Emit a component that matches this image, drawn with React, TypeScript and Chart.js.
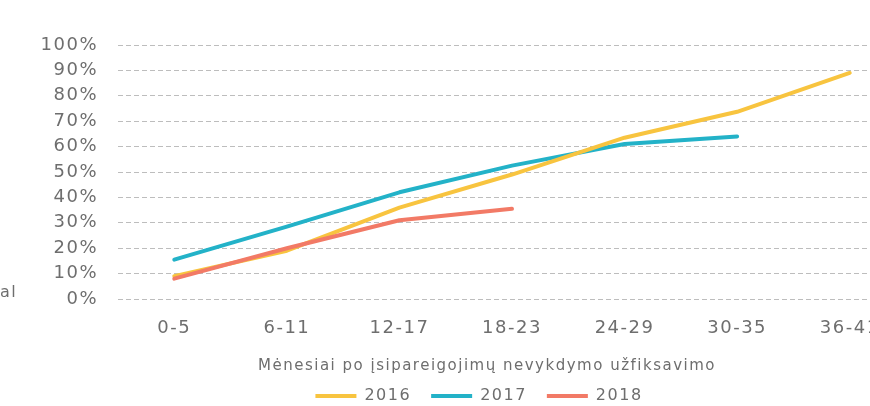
import React, { useEffect, useRef } from "react";
import { Chart, registerables } from "chart.js";

Chart.register(...registerables);

const categories = ["0-5", "6-11", "12-17", "18-23", "24-29", "30-35", "36-41"];
const series2016 = [9, 19, 36, 49, 63.5, 73.7, 89];
const series2017 = [15.5, 28.5, 42, 52.5, 61, 64, null];
const series2018 = [8, 20, 31, 35.5, null, null, null];
const seriesNames = ["2016", "2017", "2018"];
const yTicks = [0, 10, 20, 30, 40, 50, 60, 70, 80, 90, 100];
const xTitle = "Mėnesiai po įsipareigojimų nevykdymo užfiksavimo";
const sideText = "al";

const FONT = "'DejaVu Sans', sans-serif";
const TEXT = "#6e6e6e";
const LETTER = "1.5px";

const spacingPlugin = {
  id: "spacing",
  beforeUpdate(chart: any) {
    chart.ctx.letterSpacing = LETTER;
  },
  beforeDraw(chart: any) {
    chart.ctx.letterSpacing = LETTER;
  },
};

const xTitlePlugin = {
  id: "xTitleText",
  afterDraw(chart: any) {
    const { ctx, chartArea } = chart;
    ctx.save();
    ctx.letterSpacing = LETTER;
    ctx.font = `15px ${FONT}`;
    ctx.fillStyle = TEXT;
    ctx.textAlign = "center";
    ctx.textBaseline = "alphabetic";
    ctx.fillText(xTitle, (chartArea.left + chartArea.right) / 2 - 25, chartArea.bottom + 71);
    ctx.restore();
  },
};

export default function App() {
  const ref = useRef<HTMLCanvasElement>(null);

  useEffect(() => {
    document.body.style.margin = "0";
    document.body.style.overflow = "hidden";
    const mk = (label: string, data: (number | null)[], color: string, order: number) => ({
      label,
      data,
      borderColor: color,
      backgroundColor: color,
      borderWidth: 4,
      borderCapStyle: "round",
      borderJoinStyle: "round",
      pointRadius: 0,
      pointHoverRadius: 0,
      tension: 0,
      spanGaps: false,
      fill: false,
      order,
    });
    const chart = new Chart(ref.current!, {
      type: "line",
      data: {
        labels: categories,
        datasets: [
          mk(seriesNames[0], series2016, "#F8C43F", 1),
          mk(seriesNames[1], series2017, "#23B2C8", 2),
          mk(seriesNames[2], series2018, "#F27A66", 0),
        ] as any,
      },
      options: {
        animation: false,
        responsive: false,
        maintainAspectRatio: false,
        layout: { padding: { left: 52, right: 0, top: 45, bottom: 0 } },
        scales: {
          x: {
            offset: true,
            grid: { display: false, drawTicks: false },
            border: { display: false },
            ticks: { color: TEXT, font: { family: FONT, size: 18 }, padding: 19, maxRotation: 0, autoSkip: false },
            afterFit(scale: any) {
              scale.height = 69;
            },
          },
          y: {
            min: 0,
            max: 100,
            afterBuildTicks(scale: any) {
              scale.ticks = yTicks.map((v) => ({ value: v }));
            },
            grid: { color: "#bdbdbd", lineWidth: 1, drawTicks: false },
            border: { display: false, dash: [5, 3] },
            ticks: {
              color: TEXT,
              font: { family: FONT, size: 18 },
              padding: 20,
              callback: (v: any) => `${v}%`,
            },
            afterFit(scale: any) {
              scale.width = 66;
              scale._computeLabelArea = () => undefined;
            },
          },
        },
        plugins: {
          legend: {
            position: "bottom",
            labels: {
              sort: (a: any, b: any) => a.datasetIndex - b.datasetIndex,
              usePointStyle: true,
              pointStyle: "line",
              pointStyleWidth: 41,
              padding: 20,
              color: TEXT,
              font: { family: FONT, size: 16 },
            },
          },
          tooltip: { enabled: false },
        },
      } as any,
      plugins: [spacingPlugin, xTitlePlugin],
    });
    return () => chart.destroy();
  }, []);

  return (
    <div style={{ position: "fixed", left: 0, top: 0, width: 870, height: 406, overflow: "hidden", background: "#fff" }}>
      <canvas ref={ref} width={906} height={414} style={{ position: "absolute", left: 0, top: 0, width: 906, height: 414 }} />
      <span
        style={{
          position: "absolute",
          left: 0,
          top: 284,
          font: `16px ${FONT}`,
          lineHeight: "16px",
          color: TEXT,
          letterSpacing: LETTER,
        }}
      >
        {sideText}
      </span>
    </div>
  );
}
